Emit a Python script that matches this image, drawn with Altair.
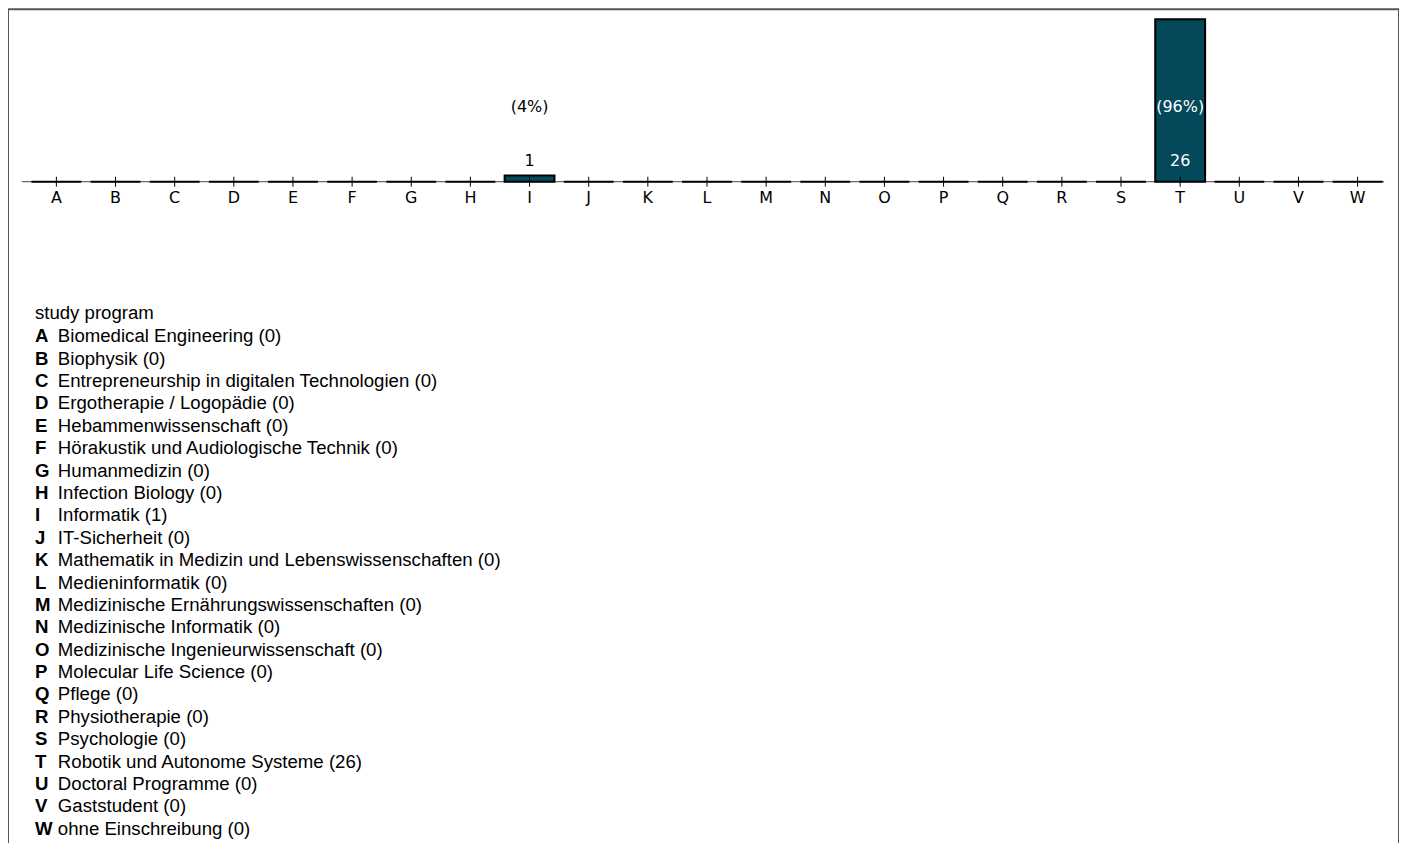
import altair as alt
import pandas as pd

letters = list("ABCDEFGHIJKLMNOPQRSTUVW")
programs = [
    "Biomedical Engineering", "Biophysik", "Entrepreneurship in digitalen Technologien",
    "Ergotherapie / Logopädie", "Hebammenwissenschaft", "Hörakustik und Audiologische Technik",
    "Humanmedizin", "Infection Biology", "Informatik", "IT-Sicherheit",
    "Mathematik in Medizin und Lebenswissenschaften", "Medieninformatik",
    "Medizinische Ernährungswissenschaften", "Medizinische Informatik",
    "Medizinische Ingenieurwissenschaft", "Molecular Life Science", "Pflege",
    "Physiotherapie", "Psychologie", "Robotik und Autonome Systeme",
    "Doctoral Programme", "Gaststudent", "ohne Einschreibung",
]
counts = [0, 0, 0, 0, 0, 0, 0, 0, 1, 0, 0, 0, 0, 0, 0, 0, 0, 0, 0, 26, 0, 0, 0]
legend_title = ["study program"]

total = sum(counts)
df = pd.DataFrame({"letter": letters, "program": programs, "count": counts})
df["pct"] = ["(%d%%)" % round(c / total * 100) for c in counts]
df["name"] = [f"{p} ({c})" for p, c in zip(programs, counts)]
df["lblcolor"] = ["white" if c / max(counts) >= 0.5 else "black" for c in counts]

BAR_FILL = "#03495A"
W, H = 1395, 845

xscale = alt.Scale(domain=letters, range=[18, 1384], paddingInner=0.157, paddingOuter=0.093)
xenc = alt.X("letter:N", sort=letters, scale=xscale, axis=None)
yscale = alt.Scale(domain=[0, max(counts)], range=[173, 10], nice=False, zero=True)

base = alt.Chart(df)
one = alt.Chart(pd.DataFrame({"k": [0]}))

domain_line = one.mark_rule(color="#444444", strokeWidth=1).encode(
    x=alt.value(14), x2=alt.value(1380), y=alt.value(173)
)

bars = base.mark_bar(fill=BAR_FILL, stroke="black", strokeWidth=2).encode(
    x=xenc,
    y=alt.Y("count:Q", scale=yscale, axis=None),
)

ticks = base.mark_rule(color="black", strokeWidth=1).encode(
    x=xenc, y=alt.value(168), y2=alt.value(178)
)

tick_lbl = base.mark_text(
    font="DejaVu Sans", fontSize=16, baseline="middle", align="center", color="black"
).encode(x=xenc, y=alt.value(189), text="letter:N")

count_lbl = base.transform_filter("datum.count > 0").mark_text(
    font="DejaVu Sans", fontSize=16, baseline="middle", align="center"
).encode(
    x=xenc, y=alt.value(152), text="count:Q",
    color=alt.Color("lblcolor:N", scale=None),
)

pct_lbl = base.transform_filter("datum.count > 0").mark_text(
    font="DejaVu Sans", fontSize=16, baseline="middle", align="center"
).encode(
    x=xenc, y=alt.value(98), text="pct:N",
    color=alt.Color("lblcolor:N", scale=None),
)

title_txt = alt.Chart(pd.DataFrame({"t": legend_title})).mark_text(
    font="Liberation Sans", fontSize=18.67, align="left", baseline="middle", color="black"
).encode(x=alt.value(27), y=alt.value(305), text="t:N")

yleg = alt.Y("letter:N", sort=letters,
             scale=alt.Scale(type="point", domain=letters, range=[328, 822], padding=0),
             axis=None)

leg_letters = base.mark_text(
    font="Liberation Sans", fontSize=18.67, fontWeight="bold", align="left",
    baseline="middle", color="black"
).encode(x=alt.value(27), y=yleg, text="letter:N")

leg_names = base.mark_text(
    font="Liberation Sans", fontSize=18.67, align="left", baseline="middle", color="black"
).encode(x=alt.value(50), y=yleg, text="name:N")

chart = alt.layer(
    domain_line, bars, ticks, tick_lbl, count_lbl, pct_lbl, title_txt, leg_letters, leg_names
).resolve_scale(y="independent").properties(
    width=W, height=H, padding=0
).configure(background="white").configure_view(stroke="#555555", strokeWidth=2)

chart.save("out.html", embed_options={"renderer": "svg", "actions": False})
